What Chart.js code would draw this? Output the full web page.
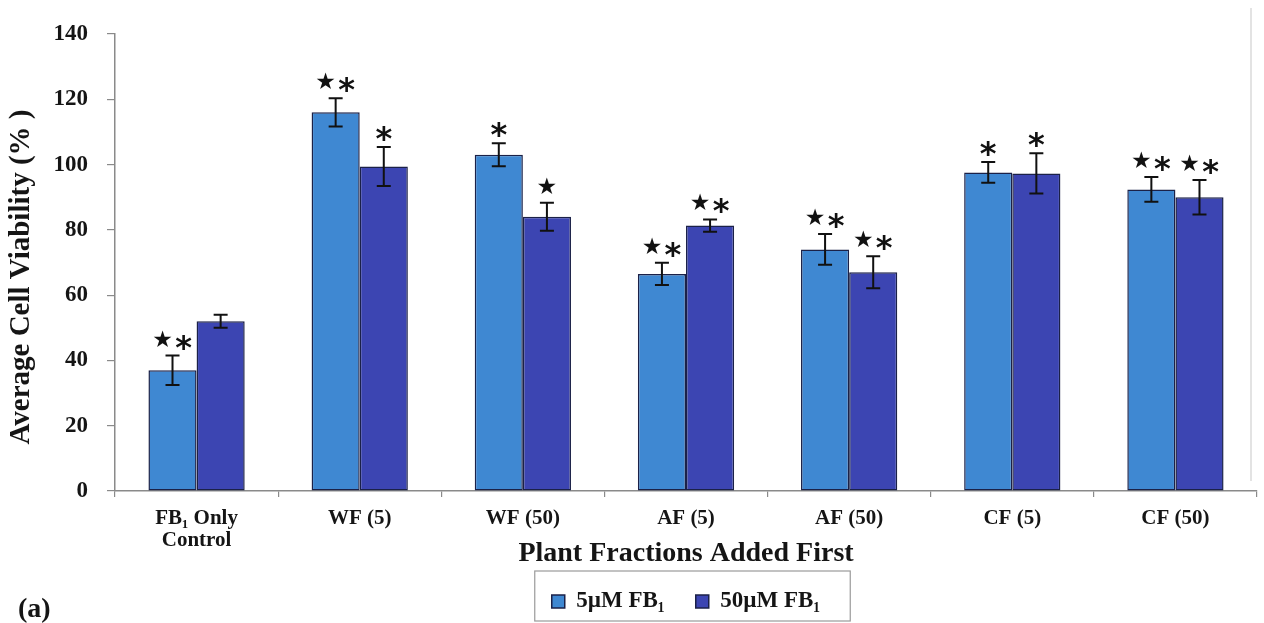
<!DOCTYPE html>
<html>
<head>
<meta charset="utf-8">
<script src="https://cdn.jsdelivr.net/npm/chart.js@4/dist/chart.umd.min.js"></script>
<style>
  html, body { margin: 0; padding: 0; background: #ffffff; }
  #wrap { width: 1264px; height: 623px; position: relative; }
</style>
</head>
<body>
<div id="wrap"><canvas id="chart"></canvas></div>
<script>
// Plant fractions added before FB1 exposure
const categories = [["FB\u2081 Only", "Control"], "WF (5)", "WF (50)", "AF (5)", "AF (50)", "CF (5)", "CF (50)"];

// Mean cell viability (%) and error (±) per FB1 dose
const viability5 = [37, 116, 103, 66.5, 74, 97.6, 92.4];
const error5 = [4.5, 4.3, 3.5, 3.4, 4.7, 3.2, 3.8];
const viability50 = [52, 99.4, 84, 81.3, 67, 97.3, 90];
const error50 = [2, 6, 4.3, 1.9, 4.9, 6.2, 5.3];

// Significance markers above each bar
const marks5 = ["★*", "★*", "*", "★*", "★*", "*", "★*"];
const marks50 = ["", "*", "★", "★*", "★*", "*", "★*"];

// Y axis range and tick step
const yMin = 0, yMax = 140, yStep = 20;

const seriesNames = ["5\u00B5M FB\u2081", "50\u00B5M FB\u2081"];
const errors = [error5, error50];
const marks = [marks5, marks50];

const serif = "'Liberation Serif', 'Times New Roman', serif";
const ink = '#151515';
const axisGrey = '#8a8a8a';

// Error bars and significance symbols, placed from the bar elements
const errorBarPlugin = {
  id: 'errorBars',
  afterDatasetsDraw(chart) {
    const { ctx } = chart;
    const y = chart.scales.y;
    chart.data.datasets.forEach((ds, d) => {
      const meta = chart.getDatasetMeta(d);
      meta.data.forEach((bar, i) => {
        const v = ds.data[i];
        const e = errors[d][i];
        const x = bar.x;
        const yHi = y.getPixelForValue(v + e);
        const yLo = y.getPixelForValue(v - e);
        ctx.save();
        ctx.strokeStyle = '#111';
        ctx.lineWidth = 2;
        ctx.beginPath();
        ctx.moveTo(x, yHi); ctx.lineTo(x, yLo);
        ctx.moveTo(x - 7, yHi); ctx.lineTo(x + 7, yHi);
        ctx.moveTo(x - 7, yLo); ctx.lineTo(x + 7, yLo);
        ctx.stroke();

        const m = marks[d][i];
        ctx.fillStyle = '#111';
        ctx.textAlign = 'center';
        ctx.textBaseline = 'alphabetic';
        const base = yHi - 9;
        const drawStar = (cx) => {
          ctx.font = "23px 'DejaVu Sans'";
          ctx.fillText('\u2605', cx, base);
        };
        const drawAst = (cx) => {
          ctx.font = "bold 32px 'DejaVu Sans'";
          ctx.fillText('*', cx, base + 11);
        };
        if (m === '★*') { drawStar(x - 10); drawAst(x + 11); }
        else if (m === '*') { drawAst(x); }
        else if (m === '★') { drawStar(x); }
        ctx.restore();
      });
    });
  }
};

// Frame round the legend, the panel letter and the plot's right edge
const framePlugin = {
  id: 'frame',
  afterDraw(chart) {
    const { ctx, legend, chartArea } = chart;
    ctx.save();
    const boxes = legend.legendHitBoxes;
    if (boxes && boxes.length) {
      const first = boxes[0], last = boxes[boxes.length - 1];
      const left = first.left - 17;
      const right = last.left + last.width + 30;
      const top = legend.top + 12;
      ctx.strokeStyle = '#9a9a9a';
      ctx.lineWidth = 1.2;
      ctx.strokeRect(left, top, right - left, 50);
    }
    ctx.strokeStyle = '#d0d0d0';
    ctx.lineWidth = 1.2;
    ctx.beginPath();
    ctx.moveTo(chartArea.right - 6, 8);
    ctx.lineTo(chartArea.right - 6, chartArea.bottom - 10);
    ctx.stroke();

    ctx.fillStyle = ink;
    ctx.font = 'bold 28px ' + serif;
    ctx.textAlign = 'left';
    ctx.textBaseline = 'alphabetic';
    ctx.fillText('(a)', 18, 617);
    ctx.restore();
  }
};

new Chart(document.getElementById('chart'), {
  type: 'bar',
  data: {
    labels: categories,
    datasets: [
      {
        label: seriesNames[0],
        data: viability5,
        backgroundColor: '#3f88d2',
        borderColor: '#1b2148',
        borderWidth: 1.5,
        borderSkipped: false
      },
      {
        label: seriesNames[1],
        data: viability50,
        backgroundColor: '#3c45b2',
        borderColor: '#1b2148',
        borderWidth: 1.5,
        borderSkipped: false
      }
    ]
  },
  options: {
    responsive: true,
    maintainAspectRatio: false,
    animation: false,
    devicePixelRatio: 1,
    layout: { padding: { top: 34, right: 7, bottom: 0, left: 0 } },
    datasets: { bar: { barPercentage: 1.0, categoryPercentage: 0.59 } },
    plugins: {
      tooltip: { enabled: false },
      legend: {
        position: 'bottom',
        fullSize: false,
        labels: {
          color: ink,
          font: { family: serif, size: 23, weight: 'bold' },
          boxWidth: 13,
          boxHeight: 13,
          padding: 31
        }
      }
    },
    scales: {
      x: {
        grid: {
          display: true,
          drawOnChartArea: false,
          drawTicks: true,
          tickLength: 6,
          offset: true,
          color: axisGrey,
          lineWidth: 1.2
        },
        border: { display: true, color: axisGrey, width: 1.5 },
        ticks: {
          color: ink,
          font: { family: serif, size: 21, weight: 'bold', lineHeight: 1.05 },
          padding: 11,
          maxRotation: 0,
          autoSkip: false
        },
        title: {
          display: true,
          text: 'Plant Fractions Added First',
          color: ink,
          font: { family: serif, size: 28, weight: 'bold', lineHeight: 1 },
          padding: { top: 0, bottom: -9 }
        },
        afterFit(scale) { scale.height = 68; }
      },
      y: {
        min: yMin,
        max: yMax,
        grid: {
          display: true,
          drawOnChartArea: false,
          drawTicks: true,
          tickLength: 8,
          color: axisGrey,
          lineWidth: 1.2
        },
        border: { display: true, color: axisGrey, width: 1.5 },
        ticks: {
          stepSize: yStep,
          color: ink,
          font: { family: serif, size: 23, weight: 'bold' },
          padding: 19
        },
        title: {
          display: true,
          text: 'Average Cell Viability (% )    ',
          color: ink,
          font: { family: serif, size: 29, weight: 'bold', lineHeight: 1.2 },
          padding: { top: 4, bottom: 0 }
        },
        afterFit(scale) { scale.width = 115; }
      }
    }
  },
  plugins: [errorBarPlugin, framePlugin]
});
</script>
</body>
</html>
